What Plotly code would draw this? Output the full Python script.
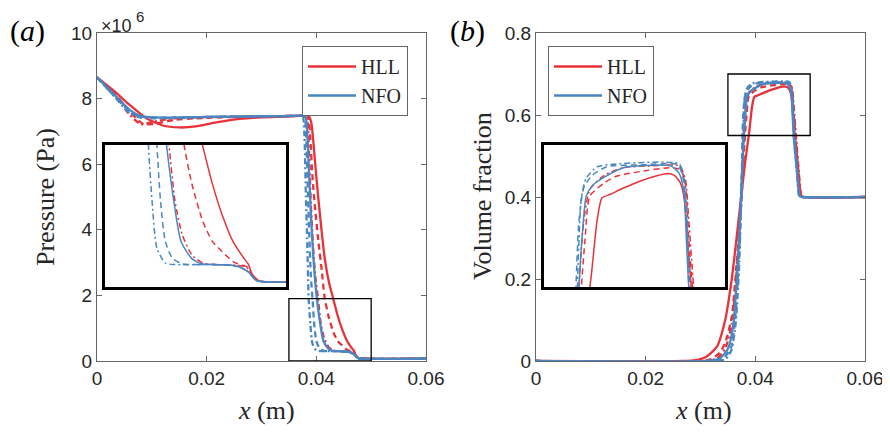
import plotly.graph_objects as go

RED = "#E8323A"
BLUE = "#4A87C2"

# ---------------- Pressure data (units of 1e6 Pa) ----------------
p_hll1_x = [0, 0.003, 0.006, 0.009, 0.012, 0.015, 0.018, 0.022, 0.026, 0.030, 0.034, 0.037, 0.0382, 0.0387, 0.0391,
            0.0395, 0.0399, 0.0404, 0.0410, 0.0416, 0.0423, 0.0430, 0.0439, 0.0447, 0.0456, 0.0464, 0.0469, 0.0472,
            0.0478, 0.0485, 0.06]
p_hll1_y = [8.65, 8.25, 7.8, 7.4, 7.18, 7.12, 7.15, 7.28, 7.38, 7.43, 7.45, 7.47, 7.5, 7.45, 7.25,
            6.6, 5.8, 4.9, 3.9, 3.05, 2.4, 1.95, 1.38, 0.97, 0.61, 0.41, 0.3, 0.17,
            0.08, 0.07, 0.07]

p_hll2_x = [0, 0.003, 0.006, 0.0085, 0.011, 0.014, 0.018, 0.025, 0.032, 0.037, 0.0383, 0.0386, 0.0389, 0.0393,
            0.0398, 0.0404, 0.0410, 0.0415, 0.0422, 0.0431, 0.0439, 0.0447, 0.0456, 0.0464, 0.0468, 0.0472, 0.0477,
            0.0485, 0.06]
p_hll2_y = [8.65, 8.2, 7.6, 7.22, 7.25, 7.35, 7.4, 7.44, 7.46, 7.48, 7.5, 7.4, 6.8, 5.6,
            4.6, 3.6, 2.75, 1.95, 1.38, 0.88, 0.61, 0.475, 0.34, 0.29, 0.27, 0.16, 0.08,
            0.07, 0.07]

p_hll3_x = [0, 0.003, 0.006, 0.008, 0.010, 0.013, 0.018, 0.030, 0.037, 0.0381, 0.0384, 0.0387, 0.0390, 0.0394,
            0.0398, 0.0403, 0.0408, 0.0414, 0.0422, 0.0431, 0.0440, 0.0460, 0.0467, 0.0472, 0.0477, 0.0485, 0.06]
p_hll3_y = [8.65, 8.15, 7.5, 7.22, 7.28, 7.38, 7.43, 7.46, 7.48, 7.5, 7.3, 6.2, 4.8, 3.5,
            2.6, 1.9, 1.15, 0.70, 0.43, 0.32, 0.30, 0.29, 0.27, 0.16, 0.08, 0.07, 0.07]

p_nfo1_x = [0, 0.003, 0.006, 0.008, 0.012, 0.020, 0.030, 0.037, 0.0379, 0.0382, 0.0386, 0.0390, 0.0394, 0.0398,
            0.0401, 0.0407, 0.0413, 0.0422, 0.0430, 0.0440, 0.0455, 0.0461, 0.0469, 0.0475, 0.0482, 0.06]
p_nfo1_y = [8.65, 8.15, 7.65, 7.47, 7.42, 7.44, 7.46, 7.48, 7.5, 7.3, 6.0, 4.5, 3.3, 2.4,
            1.9, 1.15, 0.61, 0.38, 0.31, 0.30, 0.29, 0.27, 0.2, 0.09, 0.07, 0.07]

p_nfo2_x = [0, 0.003, 0.006, 0.008, 0.012, 0.020, 0.030, 0.037, 0.0378, 0.0381, 0.0384, 0.0387, 0.0390, 0.0393,
            0.0396, 0.0400, 0.0406, 0.0414, 0.0440, 0.0455, 0.0461, 0.0469, 0.0475, 0.0482, 0.06]
p_nfo2_y = [8.65, 8.1, 7.6, 7.45, 7.42, 7.44, 7.46, 7.48, 7.5, 7.0, 5.5, 3.9, 2.6, 1.9,
            1.15, 0.61, 0.38, 0.31, 0.30, 0.29, 0.27, 0.2, 0.09, 0.07, 0.07]

p_nfo3_x = [0, 0.003, 0.006, 0.008, 0.012, 0.020, 0.030, 0.037, 0.0375, 0.0378, 0.0381, 0.0383, 0.0385, 0.0386,
            0.0389, 0.0393, 0.0400, 0.0408, 0.0440, 0.0455, 0.0461, 0.0469, 0.0475, 0.0482, 0.06]
p_nfo3_y = [8.65, 8.1, 7.55, 7.42, 7.4, 7.44, 7.46, 7.48, 7.5, 7.0, 5.0, 3.9, 2.5, 1.9,
            1.15, 0.52, 0.32, 0.30, 0.30, 0.29, 0.27, 0.2, 0.09, 0.07, 0.07]

# ---------------- Volume fraction data ----------------
a_hll1_x = [0, 0.027, 0.029, 0.031, 0.033, 0.0345, 0.0357, 0.0370, 0.0381, 0.0389, 0.0394, 0.0398, 0.0405, 0.0415,
            0.0430, 0.0445, 0.0452, 0.0458, 0.0463, 0.0466, 0.0469, 0.0472, 0.0478, 0.0483, 0.0487, 0.06]
a_hll1_y = [0, 0, 0.002, 0.01, 0.035, 0.10, 0.20, 0.35, 0.48, 0.56, 0.62, 0.644, 0.648, 0.654,
            0.662, 0.668, 0.670, 0.668, 0.66, 0.645, 0.60, 0.55, 0.47, 0.405, 0.40, 0.40]

a_hll2_x = [0, 0.030, 0.032, 0.0335, 0.0345, 0.0357, 0.0366, 0.0374, 0.0381, 0.0384, 0.0388, 0.0400, 0.0410, 0.0430,
            0.0454, 0.0463, 0.0467, 0.0470, 0.0473, 0.0479, 0.0483, 0.0488, 0.06]
a_hll2_y = [0, 0, 0.005, 0.02, 0.044, 0.108, 0.239, 0.38, 0.55, 0.60, 0.646, 0.66, 0.667, 0.672,
            0.676, 0.674, 0.66, 0.60, 0.55, 0.45, 0.403, 0.40, 0.40]

a_hll3_x = [0, 0.031, 0.033, 0.0345, 0.0357, 0.0366, 0.0373, 0.0379, 0.0383, 0.0388, 0.0400, 0.0416, 0.0440, 0.0462,
            0.0467, 0.0470, 0.0474, 0.0480, 0.0484, 0.0489, 0.06]
a_hll3_y = [0, 0, 0.006, 0.03, 0.09, 0.22, 0.38, 0.55, 0.62, 0.653, 0.668, 0.676, 0.678, 0.678,
            0.665, 0.62, 0.55, 0.45, 0.403, 0.40, 0.40]

a_nfo1_x = [0, 0.031, 0.0335, 0.0350, 0.0360, 0.0368, 0.0374, 0.0379, 0.0382, 0.0385, 0.0390, 0.0400, 0.0416, 0.0430,
            0.0455, 0.0462, 0.0466, 0.0468, 0.0470, 0.0476, 0.0481, 0.0486, 0.06]
a_nfo1_y = [0, 0, 0.006, 0.03, 0.09, 0.24, 0.40, 0.55, 0.61, 0.646, 0.657, 0.666, 0.676, 0.678,
            0.678, 0.67, 0.65, 0.60, 0.55, 0.46, 0.402, 0.40, 0.40]

a_nfo2_x = [0, 0.032, 0.034, 0.0355, 0.0363, 0.0370, 0.0375, 0.03765, 0.0379, 0.0383, 0.0390, 0.0402, 0.0430, 0.0461,
            0.0466, 0.0469, 0.0471, 0.0477, 0.0481, 0.0486, 0.06]
a_nfo2_y = [0, 0, 0.005, 0.03, 0.10, 0.25, 0.42, 0.55, 0.62, 0.655, 0.668, 0.677, 0.679, 0.679,
            0.66, 0.60, 0.55, 0.46, 0.402, 0.40, 0.40]

a_nfo3_x = [0, 0.033, 0.0345, 0.0356, 0.0364, 0.0370, 0.0374, 0.0377, 0.0379, 0.0381, 0.0385, 0.0394, 0.0410, 0.0462,
            0.0466, 0.0469, 0.0470, 0.0476, 0.0480, 0.0485, 0.06]
a_nfo3_y = [0, 0, 0.004, 0.025, 0.09, 0.22, 0.38, 0.52, 0.60, 0.645, 0.665, 0.677, 0.68, 0.68,
            0.665, 0.61, 0.55, 0.46, 0.402, 0.40, 0.40]

x_ticks = [0, 0.02, 0.04, 0.06]
x_ticklabels = ["0", "0.02", "0.04", "0.06"]
p_ticks = [0, 2, 4, 6, 8, 10]
p_ticklabels = ["0", "2", "4", "6", "8", "10"]
a_ticks = [0, 0.2, 0.4, 0.6, 0.8]
a_ticklabels = ["0", "0.2", "0.4", "0.6", "0.8"]

p_curves = [(p_hll1_x, p_hll1_y, RED, "solid", "HLL"), (p_hll2_x, p_hll2_y, RED, "dash", "HLL"),
            (p_hll3_x, p_hll3_y, RED, "dashdot", "HLL"), (p_nfo1_x, p_nfo1_y, BLUE, "solid", "NFO"),
            (p_nfo2_x, p_nfo2_y, BLUE, "dash", "NFO"), (p_nfo3_x, p_nfo3_y, BLUE, "dashdot", "NFO")]
a_curves = [(a_hll1_x, a_hll1_y, RED, "solid", "HLL"), (a_hll2_x, a_hll2_y, RED, "dash", "HLL"),
            (a_hll3_x, a_hll3_y, RED, "dashdot", "HLL"), (a_nfo1_x, a_nfo1_y, BLUE, "solid", "NFO"),
            (a_nfo2_x, a_nfo2_y, BLUE, "dash", "NFO"), (a_nfo3_x, a_nfo3_y, BLUE, "dashdot", "NFO")]

DASH = {"solid": "solid", "dash": "6px,4px", "dashdot": "6px,3px,2px,3px"}

fig = go.Figure()


def add_set(curves, xa, ya, width, legend=None):
    for x, y, c, d, name in curves:
        fig.add_trace(go.Scatter(
            x=x, y=y, mode="lines", xaxis=xa, yaxis=ya, name=name,
            line=dict(color=c, width=width, dash=DASH[d], shape="spline", smoothing=0.6),
            showlegend=(legend is not None and d == "solid"),
            legend=legend if legend else "legend",
            hoverinfo="skip"))


add_set(p_curves, "x", "y", 2.3, "legend")
add_set(a_curves, "x2", "y2", 2.3, "legend2")
add_set(p_curves, "x3", "y3", 1.5)
add_set(a_curves, "x4", "y4", 1.5)

# page is shown with an 8px body margin: convert target pixel positions to paper fractions
W, H, OFF = 890, 434, 8


def px(v):
    return (v - OFF) / W


def py(v):
    return 1 - (v - OFF) / H


GRAY = "#666666"
TICKFONT = dict(family="Liberation Sans, Arial", size=19, color="#262626")
main_ax = dict(showline=True, linecolor=GRAY, linewidth=1, mirror="ticks", ticks="inside", automargin=False,
               ticklen=5, tickcolor=GRAY, showgrid=False, zeroline=False, tickfont=TICKFONT)
inset_ax = dict(showline=True, linecolor="black", linewidth=3, mirror=True, ticks="", automargin=False,
                showticklabels=False, showgrid=False, zeroline=False)

LEGFONT = dict(family="Liberation Serif", size=20, color="#262626")
fig.update_layout(
    width=W, height=H, margin=dict(l=0, r=0, t=0, b=0, autoexpand=False),
    paper_bgcolor="white", plot_bgcolor="white",
    xaxis=dict(domain=[px(97), px(426)], range=[0, 0.06], tickvals=x_ticks, ticktext=x_ticklabels, anchor="y",
               **main_ax),
    yaxis=dict(domain=[py(361), py(33)], range=[0, 10], tickvals=p_ticks, ticktext=p_ticklabels, anchor="x",
               **main_ax),
    xaxis2=dict(domain=[px(536), px(865)], range=[0, 0.06], tickvals=x_ticks, ticktext=x_ticklabels, anchor="y2",
                **main_ax),
    yaxis2=dict(domain=[py(361), py(33)], range=[0, 0.8], tickvals=a_ticks, ticktext=a_ticklabels, anchor="x2",
                **main_ax),
    xaxis3=dict(domain=[px(105), px(286)], range=[0.035, 0.05], anchor="y3", **inset_ax),
    yaxis3=dict(domain=[py(287), py(145)], range=[0, 1.9], anchor="x3", **inset_ax),
    xaxis4=dict(domain=[px(544), px(725)], range=[0.035, 0.05], anchor="y4", **inset_ax),
    yaxis4=dict(domain=[py(287), py(145)], range=[0.55, 0.7], anchor="x4", **inset_ax),
    legend=dict(x=px(302), y=py(46), xanchor="left", yanchor="top", bgcolor="white", itemwidth=48,
                bordercolor=GRAY, borderwidth=1, font=LEGFONT, tracegroupgap=0),
    legend2=dict(x=px(548), y=py(46), xanchor="left", yanchor="top", bgcolor="white", itemwidth=48,
                 bordercolor=GRAY, borderwidth=1, font=LEGFONT, tracegroupgap=0),
    shapes=[
        dict(type="rect", xref="x", yref="y", x0=0.035, x1=0.05, y0=0, y1=1.9, line=dict(color="black", width=1.3)),
        dict(type="rect", xref="x2", yref="y2", x0=0.035, x1=0.05, y0=0.55, y1=0.7,
             line=dict(color="black", width=1.3)),
    ],
)

SERIF = dict(family="Liberation Serif", size=26, color="#262626")
LABFONT = dict(family="Liberation Serif", size=30, color="black")
ann = [
    dict(text="(<i>a</i>)", x=px(27), y=py(31), font=LABFONT),
    dict(text="(<i>b</i>)", x=px(467), y=py(31), font=LABFONT),
    dict(text="×10", x=px(116), y=py(26), font=dict(family="Liberation Sans", size=18, color="#262626")),
    dict(text="6", x=px(140), y=py(16), font=dict(family="Liberation Sans", size=15, color="#262626")),
    dict(text="Pressure (Pa)", x=px(45), y=py(197), textangle=-90, font=SERIF),
    dict(text="Volume fraction", x=px(482), y=py(196), textangle=-90, font=SERIF),
    dict(text="<i>x</i> (m)", x=px(266), y=py(410), font=SERIF),
    dict(text="<i>x</i> (m)", x=px(703), y=py(410), font=SERIF),
]
for a in ann:
    fig.add_annotation(xref="paper", yref="paper", showarrow=False, xanchor="center", yanchor="middle", **a)

fig.write_html("out.html")
